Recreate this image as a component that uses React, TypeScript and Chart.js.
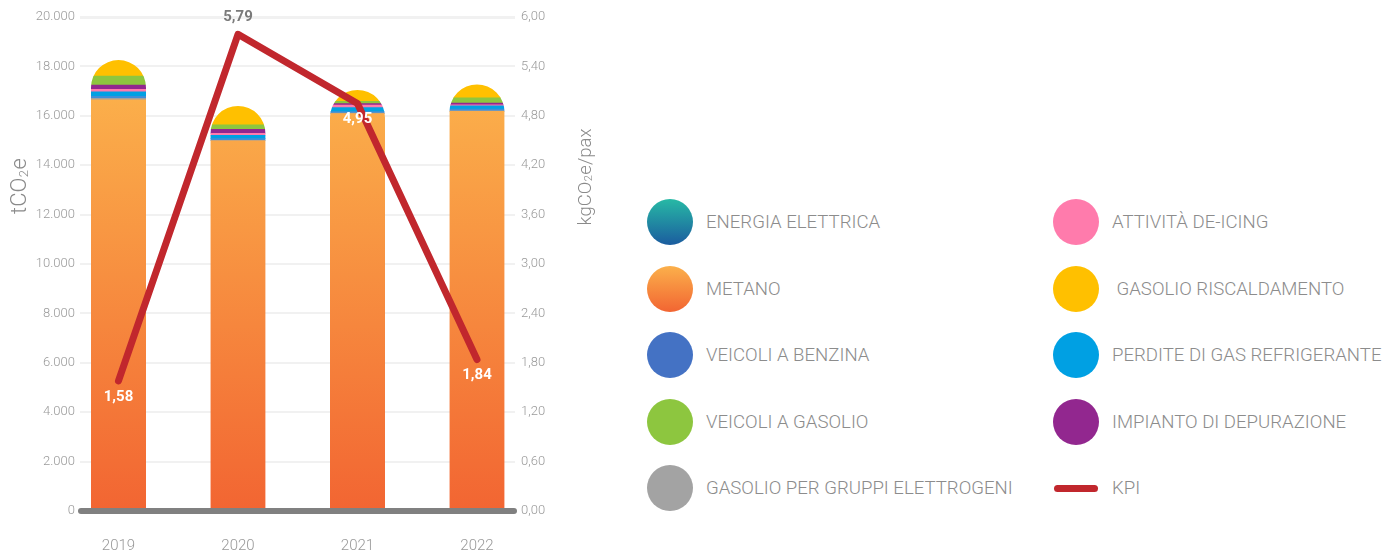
import React, { useEffect, useRef } from 'react';
import { Chart, registerables } from 'chart.js';

Chart.register(...registerables);

// ---- data ----
const years = ['2019', '2020', '2021', '2022'];
const energiaElettrica = [0, 0, 0, 0];
const metano = [16650, 14990, 16090, 16180];
const gasolioGruppi = [57, 20, 20, 20];
const veicoliBenzina = [80, 65, 60, 70];
const perditeRefrigerante = [185, 138, 160, 135];
const attivitaDeicing = [95, 81, 100, 40];
const impiantoDepurazione = [175, 162, 60, 65];
const veicoliGasolio = [365, 174, 100, 220];
const gasolioRiscaldamento = [650, 770, 455, 540];
const kpi = [1.58, 5.79, 4.95, 1.84];

const leftTicks = { min: 0, max: 20000, step: 2000 };
const rightTicks = { min: 0, max: 6, step: 0.6 };

const legendCol1 = ['ENERGIA ELETTRICA', 'METANO', 'VEICOLI A BENZINA', 'VEICOLI A GASOLIO', 'GASOLIO PER GRUPPI ELETTROGENI'];
const legendCol2 = ['ATTIVITÀ DE-ICING', ' GASOLIO RISCALDAMENTO', 'PERDITE DI GAS REFRIGERANTE', 'IMPIANTO DI DEPURAZIONE', 'KPI'];

// axis titles, split around the subscript "2"
const leftTitle = ['tCO', '2', 'e'];
const rightTitle = ['kgCO', '2', 'e/pax'];

const FONT = 'Roboto, "Noto Sans", sans-serif';
const BAR_W = 55;

const stacks = [
  energiaElettrica, metano, gasolioGruppi, veicoliBenzina, perditeRefrigerante,
  attivitaDeicing, impiantoDepurazione, veicoliGasolio, gasolioRiscaldamento,
];
const totals = years.map((_, i) => stacks.reduce((s, a) => s + a[i], 0));

const fmtThousands = (v: number) => String(Math.round(v)).replace(/\B(?=(\d{3})+(?!\d))/g, '.');
const fmtDec = (v: number) => v.toFixed(2).replace('.', ',');

const toXY = (arr: number[]) => arr.map((v, i) => ({ x: i, y: v }));

const domeClip = {
  id: 'domeClip',
  beforeDatasetDraw(chart: any, args: any) {
    if (args.meta.type !== 'bar') return;
    const ctx = chart.ctx;
    const xs = chart.scales.x;
    const ys = chart.scales.y;
    ctx.save();
    ctx.beginPath();
    const r = BAR_W / 2;
    totals.forEach((t, i) => {
      const cx = xs.getPixelForValue(i);
      const top = ys.getPixelForValue(t);
      const bottom = ys.getPixelForValue(0) + 2;
      ctx.moveTo(cx - r, bottom);
      ctx.lineTo(cx - r, top + r);
      ctx.arc(cx, top + r, r, Math.PI, 0);
      ctx.lineTo(cx + r, bottom);
      ctx.closePath();
    });
    ctx.clip();
  },
  afterDatasetDraw(chart: any, args: any) {
    if (args.meta.type !== 'bar') return;
    chart.ctx.restore();
  },
};

function drawSubTitle(ctx: any, parts: string[], size: number, x: number, y: number) {
  ctx.save();
  ctx.fillStyle = '#8a8a8a';
  ctx.textBaseline = 'alphabetic';
  ctx.textAlign = 'left';
  const big = `300 ${size}px ${FONT}`;
  const small = `300 ${Math.round(size * 0.6)}px ${FONT}`;
  ctx.font = big;
  const w0 = ctx.measureText(parts[0]).width;
  const w2 = ctx.measureText(parts[2]).width;
  ctx.font = small;
  const w1 = ctx.measureText(parts[1]).width + 1;
  const total = w0 + w1 + w2;
  ctx.translate(x, y);
  ctx.rotate(-Math.PI / 2);
  const base = size * 0.36;
  let cx = -total / 2;
  ctx.font = big;
  ctx.fillText(parts[0], cx, base);
  cx += w0;
  ctx.font = small;
  ctx.fillText(parts[1], cx + 0.5, base + size * 0.08);
  cx += w1;
  ctx.font = big;
  ctx.fillText(parts[2], cx, base);
  ctx.restore();
}

const decorations = {
  id: 'decorations',
  afterDatasetsDraw(chart: any) {
    const ctx = chart.ctx;
    const area = chart.chartArea;
    const ys = chart.scales.y;
    ctx.save();
    ctx.strokeStyle = '#808080';
    ctx.lineWidth = 6;
    ctx.lineCap = 'round';
    ctx.beginPath();
    ctx.moveTo(area.left + 1, ys.getPixelForValue(0));
    ctx.lineTo(area.right - 1, ys.getPixelForValue(0));
    ctx.stroke();
    ctx.restore();
  },
  afterDraw(chart: any) {
    const ctx = chart.ctx;
    const ys = chart.scales.y;
    const y1 = chart.scales.y1;
    const xs = chart.scales.x;
    ctx.save();
    ctx.font = `bold 15px ${FONT}`;
    ctx.textAlign = 'center';
    ctx.textBaseline = 'middle';
    kpi.forEach((v, i) => {
      const px = xs.getPixelForValue(i);
      const py = y1.getPixelForValue(v);
      const barTop = ys.getPixelForValue(totals[i]);
      if (py < barTop) {
        ctx.fillStyle = '#7a7a7a';
        ctx.fillText(fmtDec(v), px, py - 17);
      } else {
        ctx.fillStyle = '#ffffff';
        ctx.fillText(fmtDec(v), px, py + 16);
      }
    });
    ctx.restore();
    drawSubTitle(ctx, leftTitle, 22, 18, 186);
    drawSubTitle(ctx, rightTitle, 18.5, 584, 177);
  },
};

function metanoGradient(ctx: any) {
  const chart = ctx.chart;
  const area = chart.chartArea;
  if (!area) return '#f58a3e';
  const ys = chart.scales.y;
  const g = chart.ctx.createLinearGradient(0, ys.getPixelForValue(0), 0, ys.getPixelForValue(17000));
  g.addColorStop(0, '#f26532');
  g.addColorStop(1, '#fbb04b');
  return g;
}

function energiaGradient(ctx: any) {
  const chart = ctx.chart;
  const area = chart.chartArea;
  if (!area) return '#1f7fa0';
  const g = chart.ctx.createLinearGradient(0, area.bottom, 0, area.top);
  g.addColorStop(0, '#1b5c9f');
  g.addColorStop(1, '#27b9a5');
  return g;
}

function ChartView() {
  const ref = useRef<HTMLCanvasElement | null>(null);
  useEffect(() => {
    if (!ref.current) return;
    const bar = (label: string, data: number[], color: any) => ({
      type: 'bar' as const,
      label,
      data: toXY(data),
      backgroundColor: color,
      borderWidth: 0,
      barThickness: BAR_W,
      yAxisID: 'y',
      order: 2,
    });
    const chart = new Chart(ref.current, {
      type: 'bar',
      data: {
        datasets: [
          bar('ENERGIA ELETTRICA', energiaElettrica, energiaGradient),
          bar('METANO', metano, metanoGradient),
          bar('GASOLIO PER GRUPPI ELETTROGENI', gasolioGruppi, '#a0a0a0'),
          bar('VEICOLI A BENZINA', veicoliBenzina, '#3f8fd6'),
          bar('PERDITE DI GAS REFRIGERANTE', perditeRefrigerante, '#00a0e3'),
          bar('ATTIVITÀ DE-ICING', attivitaDeicing, '#ff7bac'),
          bar('IMPIANTO DI DEPURAZIONE', impiantoDepurazione, '#92278f'),
          bar('VEICOLI A GASOLIO', veicoliGasolio, '#8dc63f'),
          bar('GASOLIO RISCALDAMENTO', gasolioRiscaldamento, '#ffc000'),
          {
            type: 'line' as const,
            label: 'KPI',
            data: toXY(kpi),
            borderColor: '#c1272d',
            backgroundColor: '#c1272d',
            borderWidth: 7,
            pointRadius: 0,
            tension: 0,
            borderCapStyle: 'round',
            borderJoinStyle: 'round',
            yAxisID: 'y1',
            order: 0,
          } as any,
        ],
      },
      options: {
        animation: false,
        responsive: false,
        maintainAspectRatio: false,
        layout: { padding: { top: 17, left: 0, right: 0, bottom: 0 } },
        plugins: { legend: { display: false }, tooltip: { enabled: false } },
        scales: {
          x: {
            type: 'linear',
            offset: false,
            min: -0.322,
            max: 3.318,
            stacked: true,
            grid: { display: false, drawTicks: false, offset: false },
            border: { display: false },
            afterBuildTicks: (scale: any) => {
              scale.ticks = years.map((_, i) => ({ value: i }));
            },
            afterFit: (scale: any) => { scale.height = 44; },
            ticks: {
              padding: 26,
              color: '#999999',
              font: { family: FONT, size: 15, weight: '300' as any },
              callback: (v: any) => years[v] ?? '',
            },
          },
          y: {
            type: 'linear',
            position: 'left',
            stacked: true,
            min: leftTicks.min,
            max: leftTicks.max,
            afterFit: (scale: any) => { scale.width = 80; },
            grid: {
              drawTicks: false,
              color: '#f1f1f1',
              lineWidth: (c: any) => (c.tick && c.tick.value === leftTicks.max ? 3 : 2),
            },
            border: { display: false },
            ticks: {
              stepSize: leftTicks.step,
              padding: 5,
              color: '#9a9a9a',
              font: { family: FONT, size: 13, weight: '300' as any },
              callback: (v: any) => fmtThousands(Number(v)),
            },
          },
          y1: {
            type: 'linear',
            position: 'right',
            min: rightTicks.min,
            max: rightTicks.max,
            afterFit: (scale: any) => { scale.width = 95; },
            grid: { display: false, drawTicks: false },
            border: { display: false },
            ticks: {
              stepSize: rightTicks.step,
              padding: 6,
              color: '#9a9a9a',
              font: { family: FONT, size: 13, weight: '300' as any },
              callback: (v: any) => fmtDec(Number(v)),
            },
          },
        },
      } as any,
      plugins: [domeClip, decorations],
    });
    return () => chart.destroy();
  }, []);
  return <canvas ref={ref} width={610} height={555} style={{ position: 'absolute', left: 0, top: 0, width: 610, height: 555 }} />;
}

const swatches: Record<string, string> = {
  'ENERGIA ELETTRICA': 'linear-gradient(to bottom, #27b9a5, #1b5c9f)',
  'METANO': 'linear-gradient(to bottom, #fbb04b, #f26532)',
  'VEICOLI A BENZINA': '#4472c4',
  'VEICOLI A GASOLIO': '#8dc63f',
  'GASOLIO PER GRUPPI ELETTROGENI': '#a3a3a3',
  'ATTIVITÀ DE-ICING': '#ff7bac',
  ' GASOLIO RISCALDAMENTO': '#ffc000',
  'PERDITE DI GAS REFRIGERANTE': '#00a0e3',
  'IMPIANTO DI DEPURAZIONE': '#92278f',
};

function LegendItem({ label, cx, cy, tx }: { label: string; cx: number; cy: number; tx: number }) {
  const isLine = label === 'KPI';
  return (
    <>
      {isLine ? (
        <div style={{ position: 'absolute', left: cx - 22, top: cy - 3.5, width: 44, height: 7, borderRadius: 4, background: '#c1272d' }} />
      ) : (
        <div style={{ position: 'absolute', left: cx - 23, top: cy - 23, width: 46, height: 46, borderRadius: '50%', background: swatches[label] }} />
      )}
      <div style={{ position: 'absolute', left: tx, top: cy - 12, height: 24, lineHeight: '24px', fontFamily: FONT, fontWeight: 300, fontSize: 18.6, color: '#8c8c8c', whiteSpace: 'pre' }}>{label}</div>
    </>
  );
}

export default function App() {
  const rowY = (i: number) => 222 + i * 66.5;
  return (
    <div style={{ position: 'absolute', left: 0, top: 0, width: 1397, height: 555, overflow: 'hidden', background: '#fff' }}>
      <ChartView />
      {legendCol1.map((l, i) => <LegendItem key={l} label={l} cx={669.5} cy={rowY(i)} tx={706} />)}
      {legendCol2.map((l, i) => <LegendItem key={l} label={l} cx={1076} cy={rowY(i)} tx={1112} />)}
    </div>
  );
}
